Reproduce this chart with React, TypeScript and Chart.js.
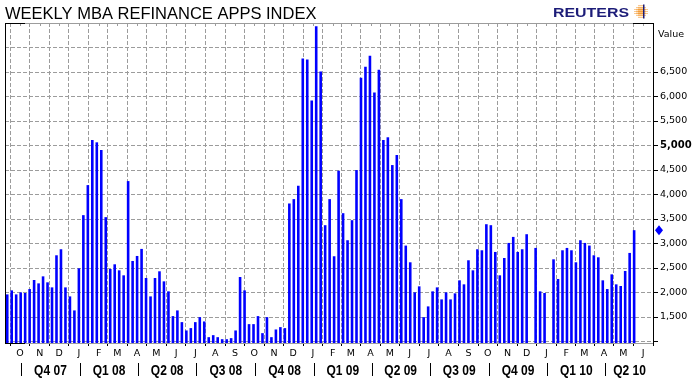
import React, { useEffect, useRef } from 'react';
import { Chart, registerables } from 'chart.js';

Chart.register(...registerables);

const TITLE = 'WEEKLY MBA REFINANCE APPS INDEX';
const BRAND = 'REUTERS';
const VALUE_LABEL = 'Value';

// first weekly observation (year, month 0-based, day)
const FIRST_WEEK: [number, number, number] = [2007, 8, 11];

// MBA refinance index, weekly (null = no observation)
const REFI_INDEX: (number | null)[] = [
  1962, 2044, 1962, 2003, 1990, 2071, 2256, 2187, 2330, 2208,
  2105, 2760, 2883, 2105, 1921, 1635, 2494, 3579, 4192, 5113,
  5065, 4908, 3538, 2480, 2576, 2453, 2351, 4274, 2644, 2746,
  2890, 2296, 1921, 2296, 2433, 2228, 2024, 1519, 1635, 1396,
  1226, 1274, 1396, 1498, 1410, 1089, 1130, 1089, 1048, 1048,
  1069, 1226, 2317, 2044, 1355, 1355, 1519, 1171, 1498, 1089,
  1246, 1294, 1274, 3817, 3906, 4179, 6777, 6757, 5918, 7432,
  6511, 3374, 3906, 2740, 4486, 3619, 3067, 3476, 4499, 6382,
  6607, 6832, 6081, 6545, 5113, 5168, 4601, 4806, 3906, 2958,
  2617, 2003, 2126, 1498, 1717, 2024, 2105, 1860, 2003, 1860,
  1983, 2249, 2167, 2658, 2453, 2883, 2862, 3394, 3374, 2828,
  2351, 2705, 3012, 3135, 2828, 2883, 3190, null, 2910, 2024,
  1990, null, 2678, 2276, 2862, 2910, 2862, 2617, 3067, 3012,
  2958, 2760, 2719, 2249, 2071, 2371, 2167, 2133, 2440, 2808,
  3272,
];

const MONTH_LETTERS = ['J', 'F', 'M', 'A', 'M', 'J', 'J', 'A', 'S', 'O', 'N', 'D'];
const FIRST_MONTH: [number, number] = [2007, 9];
const MONTH_COUNT = 33;
const QUARTER_LABELS = ['Q4 07', 'Q1 08', 'Q2 08', 'Q3 08', 'Q4 08', 'Q1 09', 'Q2 09', 'Q3 09', 'Q4 09', 'Q1 10', 'Q2 10'];

const Y_TICKS = [1000, 1500, 2000, 2500, 3000, 3500, 4000, 4500, 5000, 5500, 6000, 6500, 7000, 7500];
const Y_LABELLED = [1500, 2000, 2500, 3000, 3500, 4000, 4500, 5000, 5500, 6000, 6500];
const Y_BOLD = 5000;
const Y_MIN = 970;
const Y_MAX = 7500;
const X_MIN_DAY = -23.5;
const X_MAX_DAY = 989.5;

const ORIGIN = Date.UTC(FIRST_MONTH[0], FIRST_MONTH[1], 1);
const dayOf = (y: number, m: number, d: number) => (Date.UTC(y, m, d) - ORIGIN) / 864e5;
const monthDate = (i: number) => new Date(Date.UTC(FIRST_MONTH[0], FIRST_MONTH[1] + i, 1));

const GRID = '#9c9c9c';
const BLUE = '#0000ff';
const NAVY = '#1c1c78';

const decor = {
  id: 'decor',
  afterDraw(chart: any) {
    const { ctx, chartArea: a, scales } = chart;
    const xs = scales.x;
    const ys = scales.y;
    const line = (x1: number, y1: number, x2: number, y2: number) => {
      ctx.beginPath();
      ctx.moveTo(x1, y1);
      ctx.lineTo(x2, y2);
      ctx.stroke();
    };
    ctx.save();
    // title
    ctx.fillStyle = '#000';
    ctx.textAlign = 'left';
    ctx.textBaseline = 'alphabetic';
    ctx.font = '16.5px "Liberation Sans", Arial, sans-serif';
    ctx.fillText(TITLE, 5, 19);

    // brand
    ctx.save();
    ctx.font = 'bold 13.5px "Liberation Sans", Arial, sans-serif';
    const bw = ctx.measureText(BRAND).width;
    ctx.translate(553, 17);
    ctx.scale(76 / bw, 1);
    ctx.fillStyle = NAVY;
    ctx.fillText(BRAND, 0, 0);
    ctx.restore();
    // logo: orange dotted globe
    ctx.fillStyle = '#f39323';
    const cx = 641, cy = 11.5;
    for (let i = -3; i <= 3; i++) {
      for (let j = -3; j <= 3; j++) {
        const r = Math.hypot(i, j);
        if (r <= 3.3) {
          const s = r < 1.5 ? 1.8 : r < 2.5 ? 1.4 : 1.0;
          ctx.fillRect(cx + i * 2 - s / 2, cy + j * 2 - s / 2, s, s);
        }
      }
    }
    ctx.fillStyle = NAVY;
    ctx.fillRect(cx + 2, cy - 7, 1.5, 14);

    // borders
    ctx.lineWidth = 1;
    ctx.strokeStyle = GRID;
    line(a.left, a.top + 0.5, a.right, a.top + 0.5);
    for (const t of xs.ticks) {
      const px = Math.round(xs.getPixelForValue(t.value)) + 0.5;
      line(px, a.top, px, a.top + 3);
    }
    ctx.strokeStyle = '#000';
    line(a.left + 0.5, a.top, a.left + 0.5, a.bottom + 1);
    line(a.left, a.top + 0.5, a.left + 20, a.top + 0.5);
    line(a.left, a.bottom + 0.5, a.left + 20, a.bottom + 0.5);
    line(a.right - 20, a.top + 0.5, a.right, a.top + 0.5);

    // axis name
    ctx.fillStyle = '#000';
    ctx.font = '9.5px "DejaVu Sans", sans-serif';
    ctx.fillText(VALUE_LABEL, a.right + 5, 37);

    // last value marker
    let last: number | null = null;
    for (let i = REFI_INDEX.length - 1; i >= 0; i--) {
      if (REFI_INDEX[i] != null) { last = REFI_INDEX[i]; break; }
    }
    if (last != null) {
      const py = ys.getPixelForValue(last);
      const px = a.right + 6;
      ctx.fillStyle = BLUE;
      ctx.beginPath();
      ctx.moveTo(px, py - 5);
      ctx.lineTo(px + 4, py);
      ctx.lineTo(px, py + 5);
      ctx.lineTo(px - 4, py);
      ctx.closePath();
      ctx.fill();
    }

    // quarter labels
    const qStarts: number[] = [];
    for (let i = 0; i < MONTH_COUNT; i++) {
      const d = monthDate(i);
      if (d.getUTCMonth() % 3 === 0) qStarts.push(dayOf(d.getUTCFullYear(), d.getUTCMonth(), 1));
    }
    ctx.fillStyle = '#000';
    ctx.strokeStyle = '#000';
    ctx.font = 'bold 15px "Liberation Sans", Arial, sans-serif';
    ctx.textAlign = 'center';
    ctx.textBaseline = 'alphabetic';
    for (let q = 0; q < QUARTER_LABELS.length && q < qStarts.length; q++) {
      const s = xs.getPixelForValue(qStarts[q]);
      const e = q + 1 < qStarts.length ? xs.getPixelForValue(qStarts[q + 1]) : a.right;
      const end = Math.min(e, a.right);
      const lx = Math.round(s) + 1.5;
      line(lx, 363, lx, 376);
      ctx.save();
      ctx.translate((s + end) / 2 + 1, 374.5);
      ctx.scale(0.8, 1);
      ctx.fillText(QUARTER_LABELS[q], 0, 0);
      ctx.restore();
    }
    ctx.restore();
  },
};

export default function App() {
  const ref = useRef<HTMLCanvasElement | null>(null);
  useEffect(() => {
    const canvas = ref.current;
    if (!canvas) return;
    const start = dayOf(FIRST_WEEK[0], FIRST_WEEK[1], FIRST_WEEK[2]);
    const points = REFI_INDEX.map((v, i) => ({ x: start + 7 * i, y: v }));
    const monthTicks = Array.from({ length: MONTH_COUNT }, (_, i) => {
      const d = monthDate(i);
      return { value: dayOf(d.getUTCFullYear(), d.getUTCMonth(), 1) };
    });
    const chart = new Chart(canvas, {
      type: 'bar',
      data: {
        datasets: [
          {
            data: points as any,
            backgroundColor: BLUE,
            borderWidth: 0,
            barThickness: 2.6,
            inflateAmount: 0,
            grouped: false,
          } as any,
        ],
      },
      options: {
        animation: false,
        responsive: false,
        devicePixelRatio: 1,
        layout: { padding: { top: 23, left: 5, right: 0, bottom: 0 } },
        plugins: { legend: { display: false }, tooltip: { enabled: false }, title: { display: false } },
        scales: {
          x: {
            type: 'linear',
            min: X_MIN_DAY,
            max: X_MAX_DAY,
            offset: false,
            afterBuildTicks: (s: any) => { s.ticks = monthTicks.map((t) => ({ ...t })); },
            afterFit: (s: any) => { s.height = 35; },
            ticks: {
              autoSkip: false,
              maxRotation: 0,
              padding: 2,
              color: '#000',
              font: { family: '"DejaVu Sans", sans-serif', size: 9.5 },
              callback: (v: any) => {
                const d = new Date(ORIGIN + Number(v) * 864e5);
                return MONTH_LETTERS[d.getUTCMonth()];
              },
            },
            grid: {
              color: GRID,
              lineWidth: 1,
              tickLength: 3,
              tickColor: '#000',
              tickBorderDash: [],
            },
            border: { display: true, color: GRID, width: 1, dash: [4, 2] },
          } as any,
          y: {
            type: 'linear',
            position: 'right',
            min: Y_MIN,
            max: Y_MAX,
            afterBuildTicks: (s: any) => { s.ticks = Y_TICKS.map((v) => ({ value: v })); },
            afterFit: (s: any) => { s.width = 43; },
            ticks: {
              padding: 2,
              color: '#000',
              font: (c: any) =>
                c.tick && c.tick.value === Y_BOLD
                  ? { family: '"DejaVu Sans", sans-serif', size: 10, weight: 'bold' }
                  : { family: '"DejaVu Sans", sans-serif', size: 9.5 },
              callback: (v: any) => (Y_LABELLED.includes(Number(v)) ? Number(v).toLocaleString('en-US') : ''),
            },
            grid: {
              color: (c: any) => (c.tick && c.tick.value >= Y_MAX ? 'rgba(0,0,0,0)' : GRID),
              lineWidth: 1,
              tickLength: 5,
              tickColor: (c: any) => (c.tick && c.tick.value > 6500 ? 'rgba(0,0,0,0)' : '#000'),
              tickBorderDash: [],
            },
            border: { display: true, color: '#000', width: 1, dash: [4, 2] },
          } as any,
        },
      },
      plugins: [decor],
    });
    return () => chart.destroy();
  }, []);
  return (
    <div style={{ position: 'fixed', left: 0, top: 0, width: 696, height: 378, background: '#fff' }}>
      <canvas ref={ref} width={696} height={378} style={{ width: 696, height: 378, display: 'block' }} />
    </div>
  );
}
